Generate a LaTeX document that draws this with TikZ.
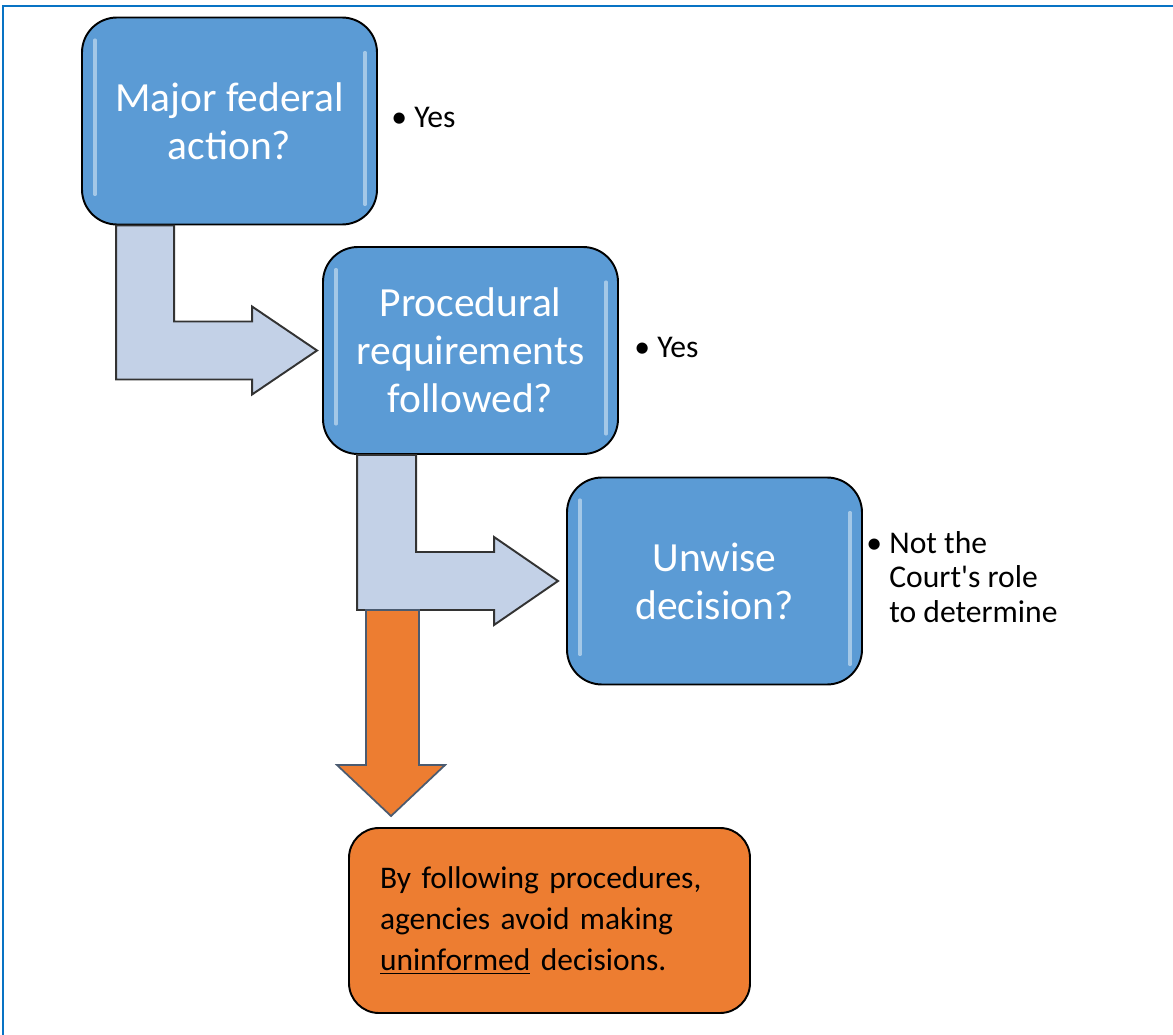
\documentclass[tikz,border=0pt]{standalone}
\usepackage{fontspec}
\setmainfont{Carlito}
\usetikzlibrary{calc}

\definecolor{boxblue}{HTML}{5B9BD5}
\definecolor{arrowgray}{HTML}{C3D1E7}
\definecolor{arroworange}{HTML}{ED7D31}
\definecolor{slate}{HTML}{4B5B70}
\definecolor{frameblue}{HTML}{0873C4}

\tikzset{
	question/.style={draw=black,line width=1.1pt,fill=boxblue,text=white,
		rounded corners=0.7cm,minimum width=5.9cm,minimum height=4.14cm,
		align=center,font=\fontsize{23.6}{27.2}\selectfont,
		path picture={\draw[white,opacity=.45,line width=1.8pt,line cap=round]
			([xshift=0.26cm,yshift=-0.45cm]path picture bounding box.north west) --
			([xshift=0.26cm,yshift=0.6cm]path picture bounding box.south west)
			([xshift=-0.24cm,yshift=-0.7cm]path picture bounding box.north east) --
			([xshift=-0.24cm,yshift=0.4cm]path picture bounding box.south east);}},
	answer/.style={anchor=west,inner sep=0pt,font=\fontsize{18}{19.5}\selectfont},
	outcome/.style={draw=black,line width=1.1pt,fill=arroworange,rounded corners=0.6cm,
		text width=6.78cm,inner xsep=0.62cm,inner ysep=0pt,minimum height=3.7cm,
		align=left,font=\fontsize{17.9}{23.2}\selectfont},
	bentarrow/.style={draw=black!80,line width=1.1pt,fill=arrowgray},
	downarrow/.style={draw=slate,line width=1pt,fill=arroworange}
}

\begin{document}
\begin{tikzpicture}
		\useasboundingbox (0,0) rectangle (23.46,-20.7);
		% slide frame
		\draw[frameblue,line width=1.7pt] (0.06,-20.7) -- (0.06,-0.12) -- (23.46,-0.12);
		
		% the three questions
		\node[question] (Federal) at (4.59,-2.42) {Major federal\\action?};
		\node[question] (Procedure) at (9.41,-7.01) {Procedural\\requirements\\followed?};
		\node[question] (Unwise) at (14.29,-11.62) {Unwise\\decision?};
		\node[outcome] (Lesson) at (10.99,-18.41) {By following procedures,\\agencies avoid making\\\underline{uninformed} decisions.};
		
		% answers
		\node[answer] (FederalYes) at ([xshift=0.26cm]Federal.east)
			{\begin{tabular}{@{}p{0.46cm}@{}l@{}}\textbullet & Yes\end{tabular}};
		\node[answer] (ProcedureYes) at ([xshift=0.3cm]Procedure.east)
			{\begin{tabular}{@{}p{0.46cm}@{}l@{}}\textbullet & Yes\end{tabular}};
		\node[answer] (UnwiseRole) at ([xshift=0.06cm]Unwise.east)
			{\begin{tabular}{@{}p{0.46cm}@{}l@{}}\textbullet & Not the\\ & Court\textquotesingle s role\\ & to determine\end{tabular}};
		
		% bent arrows
		\draw[bentarrow] let \p1=([xshift=0.7cm]Federal.south west), \p2=([xshift=-0.1cm]Procedure.west) in
			(\x1,\y1) -- (\x1+1.16cm,\y1) -- (\x1+1.16cm,\y2+0.58cm) -- (\x2-1.3cm,\y2+0.58cm)
			-- (\x2-1.3cm,\y2+0.88cm) -- (\p2) -- (\x2-1.3cm,\y2-0.88cm) -- (\x2-1.3cm,\y2-0.58cm)
			-- (\x1,\y2-0.58cm) -- cycle;
		\draw[bentarrow] let \p1=([xshift=0.7cm]Procedure.south west), \p2=([xshift=-0.16cm]Unwise.west) in
			(\x1,\y1) -- (\x1+1.18cm,\y1) -- (\x1+1.18cm,\y2+0.58cm) -- (\x2-1.28cm,\y2+0.58cm)
			-- (\x2-1.28cm,\y2+0.88cm) -- (\p2) -- (\x2-1.28cm,\y2-0.88cm) -- (\x2-1.28cm,\y2-0.58cm)
			-- (\x1,\y2-0.58cm) -- cycle;
		
		% down arrow to the conclusion
		\coordinate (drop) at (7.85,-12.2);
		\draw[downarrow] let \p1=(drop), \p2=([xshift=0.86cm,yshift=0.22cm]Lesson.north west) in
			(\x1-0.53cm,\y1) -- (\x1+0.53cm,\y1) -- (\x1+0.53cm,\y2+1.02cm) -- (\x2+1.08cm,\y2+1.02cm)
			-- (\p2) -- (\x2-1.08cm,\y2+1.02cm) -- (\x1-0.53cm,\y2+1.02cm) -- cycle;
		
		\end{tikzpicture}
\end{document}
